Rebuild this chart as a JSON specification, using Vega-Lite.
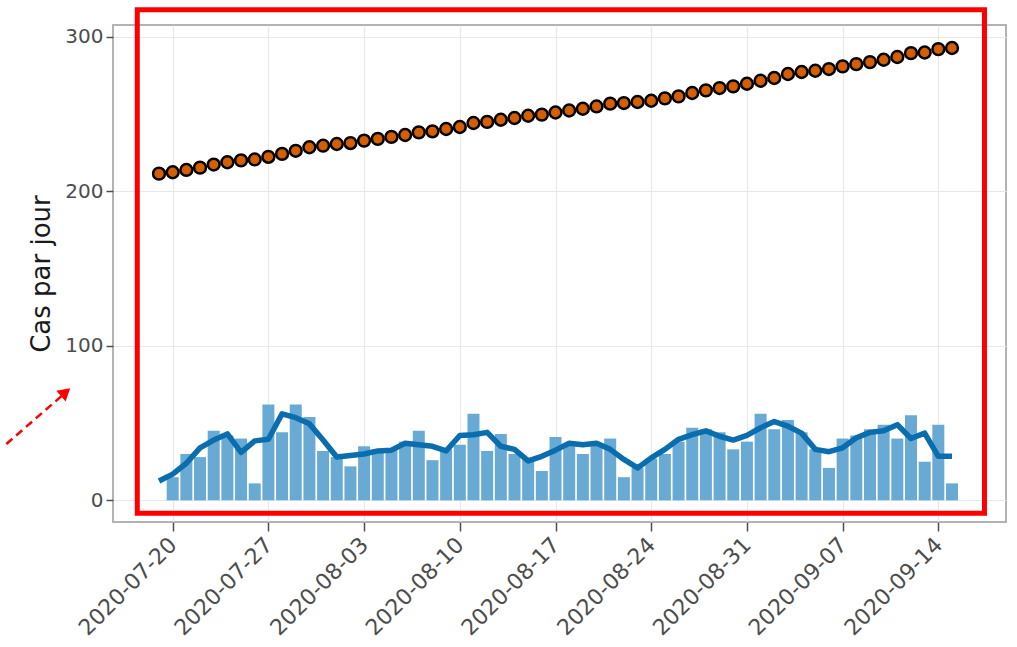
{
  "$schema": "https://vega.github.io/schema/vega-lite/v6.json",
  "autosize": {"type": "none"},
  "width": 893,
  "height": 497,
  "padding": {"left": 113, "top": 25, "right": 11, "bottom": 125},
  "background": "white",
  "config": {
    "font": "DejaVu Sans",
    "view": {"stroke": "#b3b3b3", "strokeWidth": 2},
    "axis": {
      "grid": true,
      "gridColor": "#e8e8e8",
      "gridWidth": 1.2,
      "domain": false,
      "tickColor": "#4d4d4d",
      "tickWidth": 1.5,
      "labelColor": "#4d4d4d",
      "labelFont": "DejaVu Sans",
      "labelFontSize": 20,
      "labelOverlap": false,
      "titleFont": "DejaVu Sans",
      "titleFontWeight": "normal",
      "titleColor": "#1a1a1a"
    }
  },
  "datasets": {
    "cases": [
      {"date": "2020-07-19", "cases": null, "avg": 12.5, "cumul": 211.4},
      {"date": "2020-07-20", "cases": 15, "avg": 17, "cumul": 212.3},
      {"date": "2020-07-21", "cases": 30, "avg": 24, "cumul": 213.8},
      {"date": "2020-07-22", "cases": 28, "avg": 34, "cumul": 215.3},
      {"date": "2020-07-23", "cases": 45, "avg": 39, "cumul": 217.3},
      {"date": "2020-07-24", "cases": 42, "avg": 43, "cumul": 218.8},
      {"date": "2020-07-25", "cases": 40, "avg": 31, "cumul": 220},
      {"date": "2020-07-26", "cases": 11, "avg": 38.5, "cumul": 220.6},
      {"date": "2020-07-27", "cases": 62, "avg": 39.5, "cumul": 222.3},
      {"date": "2020-07-28", "cases": 44, "avg": 56, "cumul": 224.2},
      {"date": "2020-07-29", "cases": 62, "avg": 53.5, "cumul": 226.2},
      {"date": "2020-07-30", "cases": 54, "avg": 49.5, "cumul": 228.5},
      {"date": "2020-07-31", "cases": 32, "avg": 39, "cumul": 229.5},
      {"date": "2020-08-01", "cases": 28, "avg": 28, "cumul": 230.6},
      {"date": "2020-08-02", "cases": 22, "avg": 29, "cumul": 231.2},
      {"date": "2020-08-03", "cases": 35, "avg": 30, "cumul": 232.8},
      {"date": "2020-08-04", "cases": 33, "avg": 32, "cumul": 233.9},
      {"date": "2020-08-05", "cases": 33, "avg": 32.5, "cumul": 235.2},
      {"date": "2020-08-06", "cases": 38, "avg": 37, "cumul": 236.4},
      {"date": "2020-08-07", "cases": 45, "avg": 36, "cumul": 238.1},
      {"date": "2020-08-08", "cases": 26, "avg": 35, "cumul": 238.8},
      {"date": "2020-08-09", "cases": 33, "avg": 32, "cumul": 240.3},
      {"date": "2020-08-10", "cases": 36, "avg": 42, "cumul": 241.6},
      {"date": "2020-08-11", "cases": 56, "avg": 42.5, "cumul": 244.2},
      {"date": "2020-08-12", "cases": 32, "avg": 44, "cumul": 244.9},
      {"date": "2020-08-13", "cases": 43, "avg": 35, "cumul": 246.3},
      {"date": "2020-08-14", "cases": 30, "avg": 33, "cumul": 247.4},
      {"date": "2020-08-15", "cases": 27, "avg": 25.5, "cumul": 248.9},
      {"date": "2020-08-16", "cases": 19, "avg": 28.5, "cumul": 249.6},
      {"date": "2020-08-17", "cases": 41, "avg": 32.5, "cumul": 251},
      {"date": "2020-08-18", "cases": 37, "avg": 37, "cumul": 252.3},
      {"date": "2020-08-19", "cases": 30, "avg": 36, "cumul": 253.4},
      {"date": "2020-08-20", "cases": 36, "avg": 37, "cumul": 254.9},
      {"date": "2020-08-21", "cases": 40, "avg": 33, "cumul": 256.7},
      {"date": "2020-08-22", "cases": 15, "avg": 26.5, "cumul": 257.1},
      {"date": "2020-08-23", "cases": 21, "avg": 21, "cumul": 257.8},
      {"date": "2020-08-24", "cases": 27, "avg": 27.5, "cumul": 258.6},
      {"date": "2020-08-25", "cases": 30, "avg": 33, "cumul": 260.1},
      {"date": "2020-08-26", "cases": 38, "avg": 39.5, "cumul": 261.4},
      {"date": "2020-08-27", "cases": 47, "avg": 42.5, "cumul": 263.6},
      {"date": "2020-08-28", "cases": 46, "avg": 45, "cumul": 265.3},
      {"date": "2020-08-29", "cases": 44, "avg": 41.5, "cumul": 266.8},
      {"date": "2020-08-30", "cases": 33, "avg": 39, "cumul": 267.9},
      {"date": "2020-08-31", "cases": 38, "avg": 42, "cumul": 269.6},
      {"date": "2020-09-01", "cases": 56, "avg": 47, "cumul": 271.5},
      {"date": "2020-09-02", "cases": 46, "avg": 51, "cumul": 273.3},
      {"date": "2020-09-03", "cases": 52, "avg": 48, "cumul": 275.9},
      {"date": "2020-09-04", "cases": 44, "avg": 43.5, "cumul": 277.2},
      {"date": "2020-09-05", "cases": 33, "avg": 33, "cumul": 278},
      {"date": "2020-09-06", "cases": 21, "avg": 31.5, "cumul": 279.1},
      {"date": "2020-09-07", "cases": 40, "avg": 34, "cumul": 280.8},
      {"date": "2020-09-08", "cases": 42, "avg": 40.5, "cumul": 282.3},
      {"date": "2020-09-09", "cases": 46, "avg": 44, "cumul": 283.6},
      {"date": "2020-09-10", "cases": 49, "avg": 45, "cumul": 285.1},
      {"date": "2020-09-11", "cases": 40, "avg": 49, "cumul": 286.9},
      {"date": "2020-09-12", "cases": 55, "avg": 40, "cumul": 289.4},
      {"date": "2020-09-13", "cases": 25, "avg": 43.5, "cumul": 289.8},
      {"date": "2020-09-14", "cases": 49, "avg": 28.5, "cumul": 292},
      {"date": "2020-09-15", "cases": 11, "avg": 28.5, "cumul": 292.7}
    ],
    "box": [
      {"start": "2020-07-17T09:50:00Z", "end": "2020-09-17T09:00:00Z", "low": -8.4, "high": 317.4}
    ],
    "arrow": [
      {"date": "2020-07-07T20:00:00Z", "value": 36.5},
      {"date": "2020-07-12T08:00:00Z", "value": 71}
    ],
    "arrowhead": [
      {"date": "2020-07-12T04:00:00Z", "value": 70}
    ]
  },
  "layer": [
    {
      "data": {"name": "cases"},
      "mark": {"type": "bar", "size": 12, "color": "#69aad4", "opacity": 1},
      "encoding": {
        "x": {
          "field": "date", "type": "temporal",
          "scale": {"type": "utc", "nice": false, "domain": [{"year": 2020, "month": 7, "date": 16, "utc": true}, {"year": 2020, "month": 9, "date": 18, "hours": 14, "utc": true}]},
          "axis": {
            "title": null,
            "format": "%Y-%m-%d",
            "values": [
              {"year": 2020, "month": 7, "date": 20, "utc": true},
              {"year": 2020, "month": 7, "date": 27, "utc": true},
              {"year": 2020, "month": 8, "date": 3, "utc": true},
              {"year": 2020, "month": 8, "date": 10, "utc": true},
              {"year": 2020, "month": 8, "date": 17, "utc": true},
              {"year": 2020, "month": 8, "date": 24, "utc": true},
              {"year": 2020, "month": 8, "date": 31, "utc": true},
              {"year": 2020, "month": 9, "date": 7, "utc": true},
              {"year": 2020, "month": 9, "date": 14, "utc": true}
            ],
            "labelAngle": -45,
            "labelAlign": "right",
            "labelBaseline": "middle",
            "labelFontSize": 22,
            "tickSize": 9,
            "labelPadding": 10
          }
        },
        "y": {
          "field": "cases", "type": "quantitative",
          "scale": {"domain": [-14, 307.6], "nice": false, "zero": false},
          "axis": {
            "title": "Cas par jour",
            "titleFontSize": 26,
            "titlePadding": 10,
            "values": [0, 100, 200, 300],
            "tickSize": 7,
            "labelPadding": 3
          }
        }
      }
    },
    {
      "data": {"name": "cases"},
      "mark": {"type": "line", "color": "#0a6eae", "strokeWidth": 5.5, "strokeJoin": "round"},
      "encoding": {
        "x": {"field": "date", "type": "temporal"},
        "y": {"field": "avg", "type": "quantitative"}
      }
    },
    {
      "data": {"name": "cases"},
      "mark": {"type": "point", "filled": true, "shape": "circle", "size": 140, "fill": "#d55e00", "stroke": "#000000", "strokeWidth": 2.5, "opacity": 1},
      "encoding": {
        "x": {"field": "date", "type": "temporal"},
        "y": {"field": "cumul", "type": "quantitative"}
      }
    },
    {
      "data": {"name": "box"},
      "mark": {"type": "rect", "fill": null, "fillOpacity": 0, "stroke": "#ff0000", "strokeWidth": 5, "clip": false},
      "encoding": {
        "x": {"field": "start", "type": "temporal"},
        "x2": {"field": "end"},
        "y": {"field": "low", "type": "quantitative"},
        "y2": {"field": "high"}
      }
    },
    {
      "data": {"name": "arrow"},
      "mark": {"type": "line", "color": "#ff0000", "strokeWidth": 2.5, "strokeDash": [8, 5], "clip": false},
      "encoding": {
        "x": {"field": "date", "type": "temporal"},
        "y": {"field": "value", "type": "quantitative"}
      }
    },
    {
      "data": {"name": "arrowhead"},
      "mark": {"type": "point", "shape": "triangle-up", "filled": true, "color": "#ff0000", "size": 200, "angle": 49, "opacity": 1, "clip": false},
      "encoding": {
        "x": {"field": "date", "type": "temporal"},
        "y": {"field": "value", "type": "quantitative"}
      }
    }
  ]
}
